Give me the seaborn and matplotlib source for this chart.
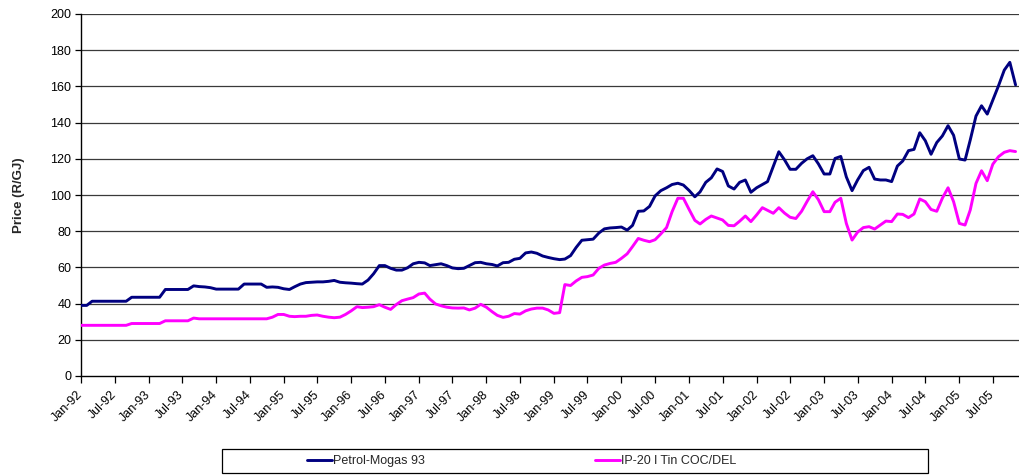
import matplotlib
matplotlib.use('Agg')
import matplotlib.pyplot as plt
from matplotlib.patches import Rectangle
import numpy as np
import pandas as pd
import seaborn as sns

# monthly data, Jan-92 .. Nov-05
start_month = '1992-01-01'
series_names = ['Petrol-Mogas 93', 'IP-20 l Tin COC/DEL']
series_colors = ['#000080', '#FF00FF']

petrol = [
    39.0, 39.0, 41.3, 41.3, 41.3, 41.3, 41.3, 41.3, 41.3, 43.5,
    43.5, 43.5, 43.5, 43.5, 43.5, 47.8, 47.8, 47.8, 47.8, 47.8,
    49.8, 49.4, 49.2, 48.8, 48.0, 48.0, 48.0, 48.0, 48.0, 50.8,
    50.8, 50.8, 50.8, 49.0, 49.2, 49.0, 48.2, 47.8, 49.3, 50.8,
    51.6, 51.8, 52.0, 52.0, 52.3, 52.8, 51.8, 51.5, 51.3, 51.0,
    50.8, 53.0, 56.5, 61.0, 61.0, 59.5, 58.5, 58.5, 59.8, 62.0,
    62.8, 62.5, 61.0, 61.5, 62.0, 61.0, 59.7, 59.3, 59.5, 61.0,
    62.6, 62.8, 62.0, 61.6, 60.8, 62.6, 62.8, 64.5, 65.0, 68.0,
    68.5, 67.8, 66.3, 65.5, 64.8, 64.3, 64.6, 66.5, 71.0, 75.0,
    75.3, 75.6, 79.0, 81.3, 81.8, 82.0, 82.3, 80.6, 83.2, 91.0,
    91.2, 93.7, 99.5, 102.4, 104.0, 105.8, 106.5, 105.5, 102.5, 99.0,
    101.7, 107.0, 109.5, 114.4, 113.0, 105.0, 103.3, 107.0, 108.3, 101.5,
    104.0, 105.8, 107.4, 115.7, 123.9, 119.4, 114.2, 114.2, 117.5, 120.0,
    121.7, 117.2, 111.6, 111.6, 120.2, 121.3, 110.0, 102.4, 108.3, 113.5,
    115.3, 108.8, 108.3, 108.3, 107.4, 116.0, 118.8, 124.5, 125.2, 134.4,
    130.0, 122.5, 129.0, 132.6, 138.3, 133.0, 119.9, 119.3, 130.4, 143.6,
    149.3, 144.7, 152.5, 160.4, 169.0, 173.3, 160.8,
]

ip20 = [
    28.0, 28.0, 28.0, 28.0, 28.0, 28.0, 28.0, 28.0, 28.0, 29.0,
    29.0, 29.0, 29.0, 29.0, 29.0, 30.5, 30.5, 30.5, 30.5, 30.5,
    32.0, 31.6, 31.6, 31.6, 31.6, 31.6, 31.6, 31.6, 31.6, 31.6,
    31.6, 31.6, 31.6, 31.6, 32.5, 34.0, 34.0, 33.0, 32.8, 33.0,
    33.0, 33.5, 33.7, 33.0, 32.5, 32.2, 32.5, 34.0, 36.0, 38.3,
    37.8, 38.0, 38.3, 39.4, 38.0, 36.8, 39.5, 41.6, 42.5, 43.3,
    45.3, 45.8, 42.5, 39.8, 38.8, 38.0, 37.6, 37.5, 37.6, 36.5,
    37.5, 39.6, 38.0, 35.5, 33.5, 32.4, 33.0, 34.5, 34.2, 36.0,
    37.0, 37.5, 37.5, 36.5, 34.6, 35.0, 50.5, 50.0, 52.5, 54.5,
    54.9, 55.8, 59.5, 61.3, 62.2, 62.8, 65.0, 67.5, 71.5, 76.0,
    75.0, 74.2, 75.3, 78.5, 82.0, 90.8, 98.2, 98.2, 92.0, 86.0,
    84.0, 86.5, 88.4, 87.3, 86.2, 83.2, 83.0, 85.5, 88.4, 85.3,
    89.0, 93.0, 91.5, 89.9, 93.0, 90.0, 87.7, 87.0, 91.0, 96.5,
    101.8, 97.4, 90.8, 90.8, 96.0, 98.2, 84.3, 75.1, 79.5, 82.0,
    82.5, 81.2, 83.4, 85.6, 85.3, 89.5, 89.3, 87.5, 89.5, 97.8,
    96.3, 92.0, 91.0, 98.2, 104.0, 96.3, 84.3, 83.4, 91.7, 106.4,
    113.4, 107.9, 117.0, 121.2, 123.6, 124.5, 124.0,
]

y_ticks = list(range(0, 201, 20))

#######################################################################################################################
# build long table for seaborn
months = pd.date_range(start_month, periods=len(petrol), freq='MS')
df = pd.concat([
    pd.DataFrame({'Month': months, 'Price': petrol, 'Series': series_names[0]}),
    pd.DataFrame({'Month': months, 'Price': ip20, 'Series': series_names[1]}),
], ignore_index=True)

sns.set_theme(style='ticks')
plt.rcParams['font.family'] = ['Liberation Sans', 'DejaVu Sans']

fig = plt.figure(figsize=(10.2, 4.75), dpi=100)
ax = fig.add_axes([81 / 1020, 1 - 376 / 475, 1 - 81 / 1020, (376 - 14) / 475])

# gridlines first so the lines sit on top
for v in y_ticks[1:]:
    ax.axhline(v, color='#3a3a3a', lw=0.9, zorder=0)

sns.lineplot(data=df, x='Month', y='Price', hue='Series', palette=series_colors,
             hue_order=series_names, lw=2.1, ax=ax, legend=False, zorder=3)

ax.set_ylim(0, 200)
ax.set_yticks(y_ticks)
ax.set_xlim(months[0], months[-1] + pd.Timedelta(days=24))

tick_dates = pd.date_range(start_month, '2005-07-01', freq='6MS')
ax.set_xticks(tick_dates)
ax.set_xticklabels([d.strftime('%b-%y') for d in tick_dates], rotation=45,
                   ha='right', va='center', rotation_mode='anchor')

ax.tick_params(axis='both', labelsize=9, colors='black', direction='out', width=0.9)
ax.tick_params(axis='x', length=5, pad=7)
ax.tick_params(axis='y', length=4, pad=3)
for side in ['top', 'right']:
    ax.spines[side].set_visible(False)
for side in ['left', 'bottom']:
    ax.spines[side].set_color('black')
    ax.spines[side].set_linewidth(1.0)

ax.set_xlabel('')
ax.set_ylabel('Price (R/GJ)', fontsize=9.5, fontweight='bold', labelpad=18)

# legend below the chart with its own box
handles = [plt.Line2D([], [], color=c, lw=2.1) for c in series_colors]
fig.legend(handles, series_names, ncol=2, loc='center left',
           bbox_to_anchor=(307 / 1020, 1 - 461 / 475), frameon=False, fontsize=9,
           handlelength=2.0, handletextpad=0.1, columnspacing=13.6,
           borderpad=0, borderaxespad=0)
fig.add_artist(Rectangle((222 / 1020, 1 - 473 / 475), 706 / 1020, 24 / 475,
                         transform=fig.transFigure, fill=False, ec='black', lw=0.9))

plt.savefig('out.png', dpi=100)
